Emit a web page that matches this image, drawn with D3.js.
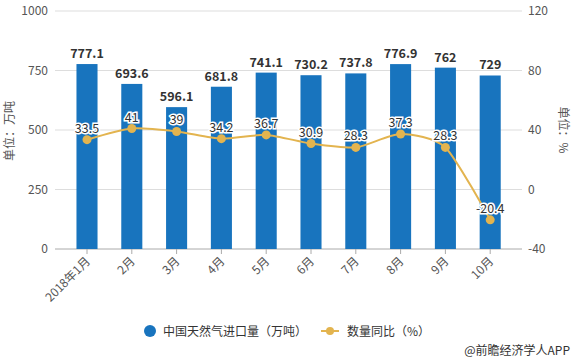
<!DOCTYPE html>
<html><head><meta charset="utf-8">
<script src="https://cdn.jsdelivr.net/npm/d3@7/dist/d3.min.js"></script>
<style>body{margin:0;background:#fff}</style>
</head><body>
<svg id="c" width="575" height="362"></svg>
<script>
const categories = ["2018年1月","2月","3月","4月","5月","6月","7月","8月","9月","10月"];
const imports = [777.1,693.6,596.1,681.8,741.1,730.2,737.8,776.9,762,729];
const yoy = [33.5,41,39,34.2,36.7,30.9,28.3,37.3,28.3,-20.4];
const leftTicks = [0,250,500,750,1000];
const rightTicks = [-40,0,40,80,120];
const seriesNames = ["中国天然气进口量（万吨）","数量同比（%）"];

const svg = d3.select("#c");
const font = "'Microsoft YaHei','Noto Sans CJK SC','Noto Sans',sans-serif";
const blue = "#1874be", gold = "#e3b44f";
const x = d3.scaleBand().domain(categories).range([64.6,512.6]).paddingInner(0.53).paddingOuter(0.265);
const yL = d3.scaleLinear().domain([0,1000]).range([249,11]);
const yR = d3.scaleLinear().domain([-40,120]).range([249,11]);

// grid
svg.append("g").selectAll("line").data(leftTicks.slice(1)).join("line")
  .attr("x1",55).attr("x2",522).attr("y1",d=>yL(d)).attr("y2",d=>yL(d))
  .attr("stroke","#ddd").attr("stroke-width",1);
svg.append("line").attr("x1",55).attr("x2",522).attr("y1",yL(0)).attr("y2",yL(0)).attr("stroke","#aaa");

// left axis labels
svg.append("g").selectAll("text").data(leftTicks).join("text")
  .attr("x",48).attr("y",d=>yL(d)+4).attr("text-anchor","end")
  .attr("font-family",font).attr("font-size",12).attr("fill","#555").text(d=>d);
svg.append("g").selectAll("text").data(rightTicks).join("text")
  .attr("x",528).attr("y",d=>yR(d)+4).attr("text-anchor","start")
  .attr("font-family",font).attr("font-size",12).attr("fill","#555").text(d=>d);

// x ticks
svg.append("g").selectAll("line").data(categories).join("line")
  .attr("x1",d=>x(d)+x.bandwidth()/2).attr("x2",d=>x(d)+x.bandwidth()/2)
  .attr("y1",249).attr("y2",254).attr("stroke","#aaa");
svg.append("g").selectAll("text").data(categories).join("text")
  .attr("transform",d=>`translate(${x(d)+x.bandwidth()/2+4},${262}) rotate(-45)`)
  .attr("text-anchor","end").attr("font-family",font).attr("font-size",12).attr("fill","#555").text(d=>d);

// axis titles
svg.append("text").attr("transform","translate(14,131) rotate(-90)").attr("text-anchor","middle")
  .attr("font-family",font).attr("font-size",12).attr("fill","#555").text("单位：万吨");
svg.append("text").attr("transform","translate(559,130) rotate(90)").attr("text-anchor","middle")
  .attr("font-family",font).attr("font-size",12).attr("fill","#555").text("单位：%");

// bars
svg.append("g").selectAll("rect").data(imports).join("rect")
  .attr("x",(d,i)=>x(categories[i])).attr("width",x.bandwidth())
  .attr("y",d=>yL(d)).attr("height",d=>yL(0)-yL(d)).attr("fill",blue);
svg.append("g").selectAll("text").data(imports).join("text")
  .attr("x",(d,i)=>x(categories[i])+x.bandwidth()/2).attr("y",d=>yL(d)-6)
  .attr("text-anchor","middle").attr("font-family",font).attr("font-size",12.5).attr("font-weight","bold")
  .attr("fill","#333").text(d=>d);

// line
const line = d3.line().x((d,i)=>x(categories[i])+x.bandwidth()/2).y(d=>yR(d)).curve(d3.curveCardinal.tension(0.3));
svg.append("path").datum(yoy).attr("d",line).attr("fill","none").attr("stroke",gold).attr("stroke-width",2);
svg.append("g").selectAll("circle").data(yoy).join("circle")
  .attr("cx",(d,i)=>x(categories[i])+x.bandwidth()/2).attr("cy",d=>yR(d)).attr("r",4.5).attr("fill",gold);
svg.append("g").selectAll("text").data(yoy).join("text")
  .attr("x",(d,i)=>x(categories[i])+x.bandwidth()/2).attr("y",d=>yR(d)-7)
  .attr("text-anchor","middle").attr("font-family",font).attr("font-size",12.5)
  .attr("fill","#333").attr("stroke","#fff").attr("stroke-width",3).attr("paint-order","stroke").text(d=>d);

// legend
svg.append("circle").attr("cx",150).attr("cy",331).attr("r",6).attr("fill",blue);
svg.append("text").attr("x",163).attr("y",336).attr("font-family",font).attr("font-size",12).attr("fill","#333").text(seriesNames[0]);
svg.append("line").attr("x1",321).attr("x2",339).attr("y1",331).attr("y2",331).attr("stroke",gold).attr("stroke-width",2);
svg.append("circle").attr("cx",330).attr("cy",331).attr("r",4).attr("fill",gold);
svg.append("text").attr("x",347).attr("y",336).attr("font-family",font).attr("font-size",12).attr("fill","#333").text(seriesNames[1]);

svg.append("text").attr("x",570).attr("y",355).attr("text-anchor","end").attr("font-family",font).attr("font-size",12).attr("fill","#333").text("@前瞻经济学人APP");
</script>
</body></html>
